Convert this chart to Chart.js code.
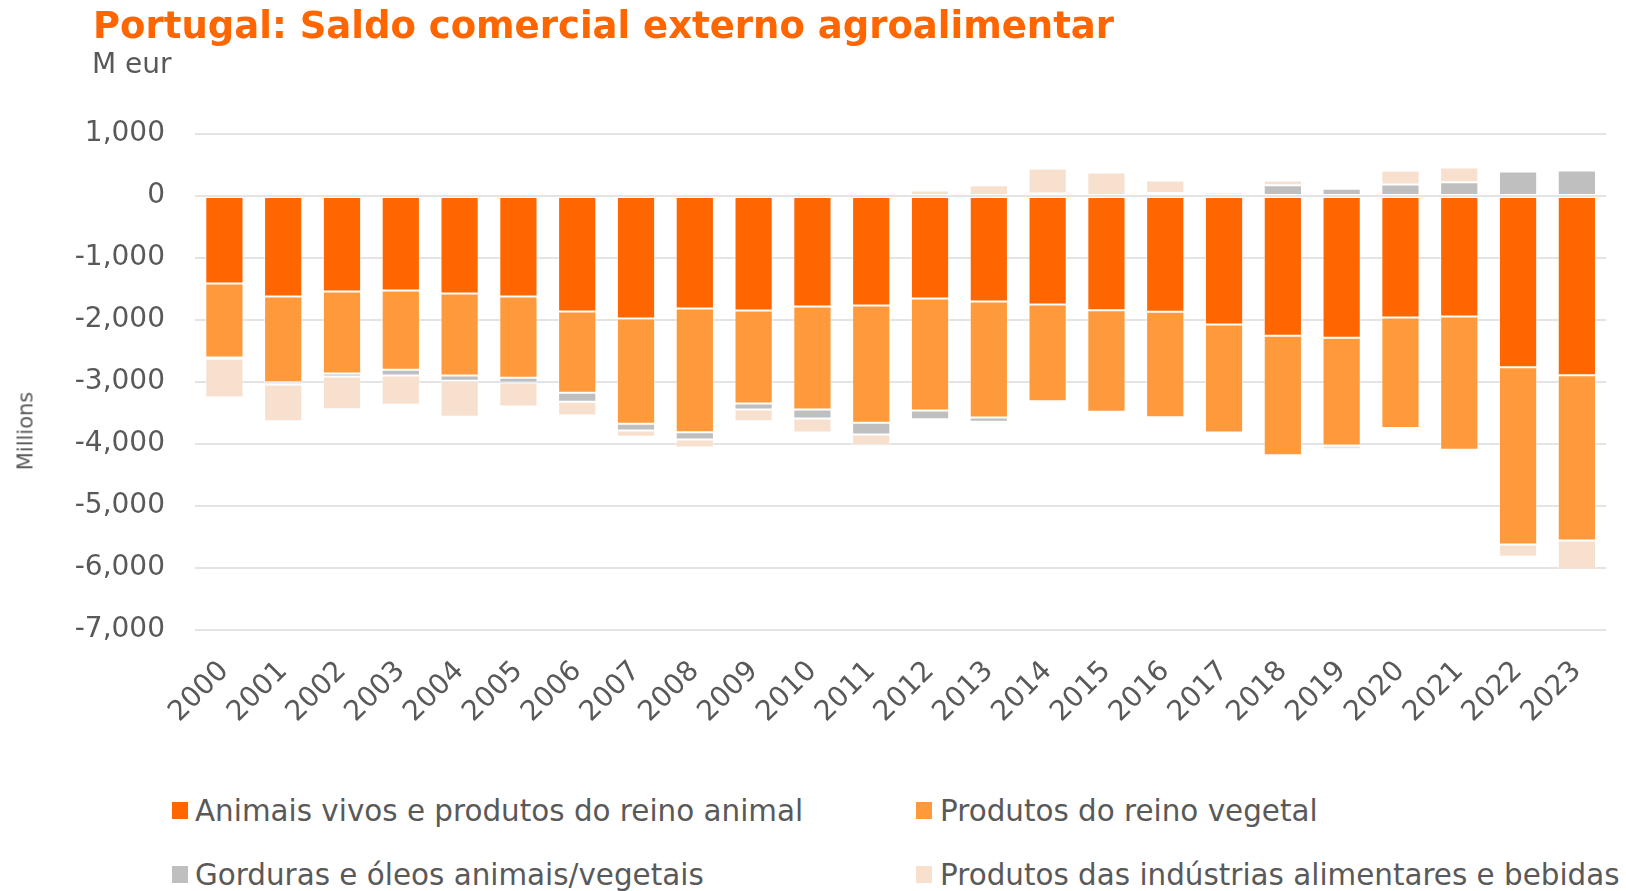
<!DOCTYPE html>
<html>
<head>
<meta charset="utf-8">
<script src="https://cdn.jsdelivr.net/npm/chart.js@4.4.1/dist/chart.umd.min.js"></script>
<style>
  html, body { margin: 0; padding: 0; background: #ffffff; }
  body { width: 1626px; height: 891px; position: relative; overflow: hidden; font-family: "DejaVu Sans", Verdana, sans-serif; }
  #title { position: absolute; left: 93px; top: 7px; font-size: 37px; font-weight: bold; color: #FF6600; line-height: 1; white-space: nowrap; }
  #subtitle { position: absolute; left: 92px; top: 50.3px; font-size: 28px; color: #595959; line-height: 1; white-space: nowrap; }
  #ytitle { position: absolute; left: 26px; top: 431px; font-size: 21px; color: #595959; line-height: 1; white-space: nowrap; transform: translate(-50%, -50%) rotate(-90deg); }
  #chartWrap { position: absolute; left: 0; top: 0; width: 1626px; height: 760px; }
  .leg { position: absolute; font-size: 29.4px; color: #595959; line-height: 1; white-space: nowrap; }
  .sw { position: absolute; width: 16px; height: 17px; }
</style>
</head>
<body>
<div id="chartWrap"><canvas id="c" width="1626" height="760"></canvas></div>
<div id="title">Portugal: Saldo comercial externo agroalimentar</div>
<div id="subtitle">M eur</div>
<div id="ytitle">Millions</div>
<div id="legend"></div>
<script>
const years = ["2000","2001","2002","2003","2004","2005","2006","2007","2008","2009","2010","2011","2012","2013","2014","2015","2016","2017","2018","2019","2020","2021","2022","2023"];
const animais = [-1411,-1621,-1540,-1524,-1573,-1621,-1863,-1976,-1815,-1847,-1782,-1766,-1653,-1702,-1750,-1841,-1868,-2073,-2255,-2288,-1960,-1944,-2761,-2890];
const vegetal = [-1194,-1382,-1323,-1280,-1322,-1312,-1312,-1699,-1994,-1500,-1662,-1893,-1807,-1871,-1559,-1640,-1699,-1740,-1925,-1736,-1780,-2150,-2860,-2667];
const gorduras = [-21,-37,-48,-91,-86,-75,-145,-107,-118,-97,-145,-188,-139,-69,40,0,50,0,175,116,185,223,395,411];
const industrias = [-624,-592,-527,-473,-581,-387,-220,-102,-129,-188,-226,-172,89,175,404,379,200,56,75,-59,226,237,-199,-467];
const seriesNames = ["Animais vivos e produtos do reino animal","Produtos do reino vegetal","Gorduras e óleos animais/vegetais","Produtos das indústrias alimentares e bebidas"];
const seriesColors = ["#FF6600","#FF9A3C","#BFBFBF","#F8E0CF"];
const yTicks = [1000,0,-1000,-2000,-3000,-4000,-5000,-6000,-7000];

const font = "'DejaVu Sans', Verdana, sans-serif";
const seriesData = [animais, vegetal, gorduras, industrias];

const ctx = document.getElementById('c').getContext('2d');
new Chart(ctx, {
  type: 'bar',
  data: {
    labels: years,
    datasets: seriesData.map((d, i) => ({
      label: seriesNames[i],
      data: d,
      backgroundColor: seriesColors[i],
      borderColor: 'rgba(255,255,255,0.45)',
      borderWidth: 1,
      borderSkipped: false,
      barPercentage: 0.65,
      categoryPercentage: 1.0
    }))
  },
  options: {
    responsive: false,
    devicePixelRatio: 1,
    animation: false,
    layout: { padding: { top: 134, right: 18, left: 0, bottom: 0 } },
    plugins: { legend: { display: false }, tooltip: { enabled: false }, title: { display: false } },
    scales: {
      x: {
        stacked: true,
        grid: { display: false, drawTicks: false },
        border: { display: false },
        ticks: {
          font: { family: font, size: 28 },
          color: '#595959',
          minRotation: 45,
          maxRotation: 45,
          padding: 25,
          autoSkip: false
        },
        afterFit: (s) => { s.height = 130; }
      },
      y: {
        stacked: true,
        min: Math.min(...yTicks),
        max: Math.max(...yTicks),
        grid: { color: '#E4E4E4', lineWidth: 2, drawTicks: false },
        border: { display: false },
        ticks: {
          stepSize: 1000,
          font: { family: font, size: 28 },
          color: '#595959',
          padding: 30,
          callback: (v) => Number(v).toLocaleString('en-US')
        },
        afterFit: (s) => { s.width = 195; }
      }
    }
  }
});

// Legend (two columns, two rows)
const legPos = [
  { sx: 172, sy: 802, tx: 195, ty: 796.5 },
  { sx: 916, sy: 802, tx: 940, ty: 796.5 },
  { sx: 172, sy: 866, tx: 195, ty: 860.5 },
  { sx: 916, sy: 866, tx: 940, ty: 860.5 }
];
const legEl = document.getElementById('legend');
seriesNames.forEach((n, i) => {
  const p = legPos[i];
  const sw = document.createElement('div');
  sw.className = 'sw';
  sw.style.left = p.sx + 'px'; sw.style.top = p.sy + 'px';
  sw.style.background = seriesColors[i];
  legEl.appendChild(sw);
  const t = document.createElement('div');
  t.className = 'leg';
  t.style.left = p.tx + 'px'; t.style.top = p.ty + 'px';
  t.textContent = n;
  legEl.appendChild(t);
});
</script>
</body>
</html>
